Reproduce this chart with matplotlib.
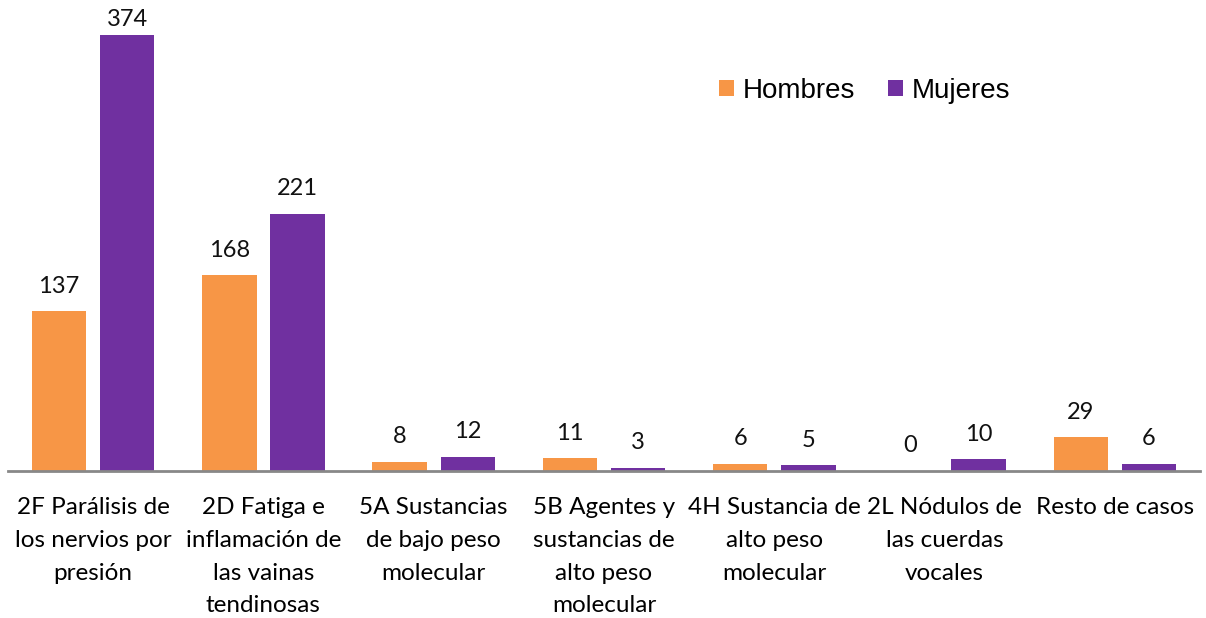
import numpy as np
import matplotlib.pyplot as plt

categories = [
    "2F Parálisis de\nlos nervios por\npresión",
    "2D Fatiga e\ninflamación de\nlas vainas\ntendinosas",
    "5A Sustancias\nde bajo peso\nmolecular",
    "5B Agentes y\nsustancias de\nalto peso\nmolecular",
    "4H Sustancia de\nalto peso\nmolecular",
    "2L Nódulos de\nlas cuerdas\nvocales",
    "Resto de casos",
]
hombres = [137, 168, 8, 11, 6, 0, 29]
mujeres = [374, 221, 12, 3, 5, 10, 6]

C_H = "#F79646"
C_M = "#7030A0"

fig = plt.figure(figsize=(12.06, 6.18), dpi=100)
fig.patch.set_facecolor("white")
ax = fig.add_axes([8 / 1206, 147 / 618, 1192 / 1206, 466 / 618])

x = np.arange(len(categories))
w = 0.32
gap = 0.04
b1 = ax.bar(x - w / 2 - gap, hombres, w, color=C_H, label="Hombres")
b2 = ax.bar(x + w / 2 + gap, mujeres, w, color=C_M, label="Mujeres")

for bars, vals in [(b1, hombres), (b2, mujeres)]:
    for r, v in zip(bars, vals):
        ax.text(r.get_x() + r.get_width() / 2, min(v + 16, 382), str(v),
                ha="center", va="baseline", fontsize=17, family="Lato",
                color="#111111")

ax.set_xlim(-0.5, len(categories) - 0.5)
ax.set_ylim(0, 400)
ax.set_yticks([])
ax.set_xticks(x)
ax.set_xticklabels(categories, fontsize=17.5, family="Lato", linespacing=1.68,
                   va="top")
ax.tick_params(axis="x", length=0, pad=19)
for s in ["top", "right", "left"]:
    ax.spines[s].set_visible(False)
ax.spines["bottom"].set_color("#888888")
ax.spines["bottom"].set_linewidth(2)

ax.legend(loc="center left", bbox_to_anchor=(0.585, 0.816), ncol=2,
          frameon=False, handlelength=0.55, handleheight=0.55,
          handletextpad=0.3, columnspacing=1.17, borderpad=0,
          prop={"family": "Liberation Sans", "size": 20})

fig.savefig("out.png", dpi=100, facecolor="white")
